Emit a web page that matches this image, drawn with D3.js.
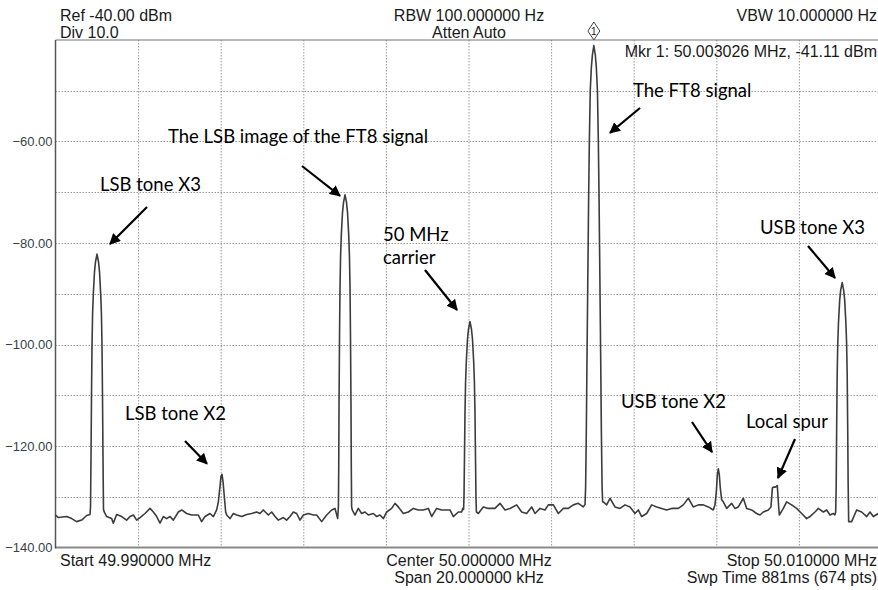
<!DOCTYPE html>
<html>
<head>
<meta charset="utf-8">
<title>Spectrum analyzer trace</title>
<script src="https://d3js.org/d3.v7.min.js"></script>
<style>
  body { margin: 0; background: #ffffff; }
  svg { display: block; }
</style>
</head>
<body>
<div id="chart"></div>
<script>

// frequency offset from start (kHz, 49.990 MHz = 0) and level (dBm)
var traceKHz = [0, 0.069, 0.270, 0.392, 0.512, 0.634, 0.755, 0.835,
  // LSB tone X3
  0.848, 0.860, 0.872, 0.884, 0.898, 0.915, 0.944, 0.969, 1.005, 1.041, 1.066, 1.095, 1.112, 1.126, 1.138, 1.150, 1.162,
  1.180, 1.239, 1.360, 1.400, 1.481, 1.602, 1.723, 1.804, 1.885, 1.965, 2.046, 2.167, 2.288, 2.369, 2.450, 2.530,
  2.611, 2.692, 2.772, 2.853, 2.974, 3.055, 3.176, 3.297, 3.458, 3.539, 3.620, 3.741, 3.822, 3.902,
  // LSB tone X2
  3.943, 3.983, 4.007, 4.032, 4.056, 4.088, 4.120,
  4.145, 4.225, 4.306, 4.387, 4.508, 4.629, 4.750, 4.871, 4.952, 5.032, 5.153, 5.234, 5.315, 5.396, 5.517,
  5.597, 5.678, 5.759, 5.839, 5.920, 6.001, 6.122, 6.243, 6.323, 6.445, 6.566, 6.687, 6.768, 6.832,
  // LSB image of FT8
  6.850, 6.858, 6.865, 6.877, 6.889, 6.903, 6.920, 6.949, 6.974, 7.010, 7.046, 7.071, 7.100, 7.117, 7.131, 7.143, 7.155, 7.162, 7.170,
  7.185, 7.252, 7.332, 7.413, 7.494, 7.575, 7.696, 7.777, 7.857, 7.938, 8.019, 8.140, 8.220, 8.301, 8.422,
  8.543, 8.664, 8.785, 8.906, 9.027, 9.108, 9.229, 9.350, 9.471, 9.552, 9.633, 9.754, 9.834, 9.860,
  // 50 MHz carrier
  9.881, 9.891, 9.903, 9.915, 9.929, 9.946, 9.975, 10.000, 10.036, 10.072, 10.097, 10.126, 10.143, 10.157, 10.169, 10.181, 10.191,
  10.238, 10.359, 10.480, 10.641, 10.762, 10.884, 11.005, 11.166, 11.287, 11.408, 11.529, 11.610, 11.731,
  11.852, 11.933, 12.054, 12.175, 12.296, 12.417, 12.538, 12.659, 12.780,
  // FT8 signal
  12.822, 12.836, 12.853, 12.870, 12.890, 12.909, 12.926, 12.948, 12.974, 12.999, 13.035, 13.071, 13.096, 13.122, 13.144,
  13.161, 13.180, 13.200, 13.217, 13.234, 13.248,
  13.264, 13.345, 13.426, 13.547, 13.668, 13.789, 13.910, 14.031, 14.112, 14.193, 14.314, 14.435, 14.556,
  14.677, 14.798, 14.919, 15.080, 15.201, 15.322, 15.443, 15.565, 15.686, 15.807, 15.928,
  // USB tone X2
  15.968, 16.001, 16.025, 16.049, 16.073, 16.097, 16.130,
  16.170, 16.251, 16.372, 16.452, 16.533, 16.654, 16.735, 16.856, 16.977, 17.058, 17.139, 17.260, 17.324,
  // local spur
  17.357, 17.381, 17.429, 17.477, 17.502,
  17.526, 17.623, 17.703, 17.824, 17.945, 18.067, 18.188, 18.268, 18.389, 18.470, 18.591, 18.672, 18.753,
  18.833, 18.870,
  // USB tone X3
  18.891, 18.903, 18.915, 18.927, 18.941, 18.958, 18.987, 19.012, 19.048, 19.084, 19.109, 19.138, 19.155, 19.169, 19.181, 19.193, 19.205,
  19.225, 19.277, 19.398, 19.519, 19.641, 19.721, 19.802, 19.923, 20.0];

var traceDBm = [-133.6, -134.1, -133.9, -134.3, -134.9, -134.6, -133.7, -133.5,
  -132.0, -122, -110, -100.2, -94, -90.2, -85.7, -83.7, -82.2, -83.7, -85.7, -90.2, -94, -100.2, -110, -122, -132.5,
  -133.0, -133.9, -134.3, -135.2, -133.5, -133.9, -134.6, -133.9, -133.6, -134.6, -134.1, -133.3, -132.3, -133.0, -133.9, -135.2,
  -133.9, -134.3, -133.9, -134.6, -133.0, -132.6, -133.3, -133.6, -133.6, -134.9, -133.9, -133.3, -133.9, -132.6,
  -131.0, -128.0, -126.0, -125.6, -127.0, -130.0, -133.0,
  -133.6, -134.3, -133.3, -133.6, -133.9, -133.5, -133.3, -133.0, -133.3, -132.6, -133.6, -133.0, -133.9, -134.6, -134.1,
  -134.6, -133.9, -133.0, -133.3, -134.6, -133.6, -133.3, -133.6, -133.6, -134.9, -133.6, -132.6, -132.3, -134.3,
  -132, -124, -112, -98.5, -88.5, -82.5, -78.5, -74, -72, -70.5, -72, -74, -78.5, -82.5, -88.5, -98.5, -112, -124, -132,
  -132.6, -133.6, -132.3, -133.3, -133.0, -133.6, -133.3, -133.9, -133.6, -134.3, -133.0, -132.3, -131.3, -132.0, -133.3,
  -133.0, -132.3, -132.6, -132.6, -132.3, -133.9, -132.3, -132.6, -132.6, -132.6, -133.9, -133.0, -133.0, -132.3,
  -132.5, -130, -122, -113.5, -107.5, -103.5, -99, -97, -95.5, -97, -99, -103.5, -107.5, -113.5, -122, -130, -133,
  -133.3, -132.0, -132.3, -132.3, -131.3, -132.6, -132.3, -131.6, -133.0, -133.3, -132.0, -133.3, -132.3,
  -132.6, -131.6, -131.6, -133.3, -132.3, -132.3, -131.6, -131.3, -132.0,
  -131.5, -128, -117, -102, -86, -71, -60, -50, -45.5, -43, -41.1, -43, -45.5, -50, -60,
  -71, -86, -102, -117, -128, -131,
  -131.0, -131.6, -130.3, -132.0, -132.3, -131.6, -132.0, -133.3, -132.6, -133.9, -133.3, -131.6, -132.0,
  -132.3, -132.6, -132.3, -132.3, -131.6, -130.3, -132.0, -131.6, -131.6, -132.0, -132.6,
  -131.6, -129.0, -125.7, -124.5, -125.7, -128.3, -130.6,
  -131.0, -132.3, -131.3, -132.3, -132.0, -130.3, -132.3, -132.6, -133.3, -133.6, -133.0, -132.6, -132.0,
  -128.3, -128.1, -128.1, -127.8, -131.0,
  -133.6, -132.3, -131.0, -131.6, -132.3, -133.3, -134.3, -133.9, -133.0, -132.3, -133.0, -132.6, -133.6,
  -133.3, -133.6,
  -133, -127.8, -115.8, -105.8, -99.8, -95.8, -91.3, -89.3, -87.8, -89.3, -91.3, -95.8, -99.8, -105.8, -115.8, -127.8, -134.9,
  -134.9, -134.9, -132.6, -133.0, -133.9, -133.0, -133.9, -133.3, -133.6];

var gridKHz = [2, 4, 6, 8, 10, 12, 14, 16, 18];
var gridDBm = [-50, -60, -70, -80, -90, -100, -110, -120, -130];
var yTickValues = [-60, -80, -100, -120, -140];

var markerKHz = 13.035;
var markerText = "Mkr 1: 50.003026 MHz, -41.11 dBm";

// annotation text; arrow tail in page px, arrow head in data coords
var notes = [
  {lines: ["The FT8 signal"], tx: 633, ty: 97, from: [640, 108], toK: 13.426, toD: -58.3},
  {lines: ["The LSB image of the FT8 signal"], tx: 168, ty: 143, from: [302, 166], toK: 6.889, toD: -70.7},
  {lines: ["LSB tone X3"], tx: 100, ty: 191, from: [147, 207], toK: 1.320, toD: -80.2},
  {lines: ["50 MHz", "carrier"], tx: 383, ty: 241, from: [425, 270], toK: 9.722, toD: -93.2},
  {lines: ["USB tone X3"], tx: 760, ty: 234, from: [808, 246], toK: 18.874, toD: -86.9},
  {lines: ["LSB tone X2"], tx: 125, ty: 420, from: [185, 441], toK: 3.668, toD: -123.5},
  {lines: ["USB tone X2"], tx: 621, ty: 408, from: [692, 422], toK: 15.896, toD: -121.2},
  {lines: ["Local spur"], tx: 746, ty: 428, from: [795, 439], toK: 17.494, toD: -126.3}
];

var W = 878, H = 590;
var svg = d3.select("#chart").append("svg")
  .attr("width", W).attr("height", H);

var x = d3.scaleLinear().domain([0, 20]).range([55.5, 881.5]);
var y = d3.scaleLinear().domain([-140, -40]).range([547.5, 40]);

var defs = svg.append("defs");
defs.append("marker")
  .attr("id", "head")
  .attr("viewBox", "0 0 10 10")
  .attr("refX", 9).attr("refY", 5)
  .attr("markerWidth", 5).attr("markerHeight", 5)
  .attr("markerUnits", "strokeWidth")
  .attr("orient", "auto")
  .append("path").attr("d", "M0,0 L10,5 L0,10 z").attr("fill", "#000");

// grid
svg.append("g").selectAll("line").data(gridKHz).enter().append("line")
  .attr("x1", function(d) { return x(d) + 0.5; }).attr("x2", function(d) { return x(d) + 0.5; })
  .attr("y1", y(-40)).attr("y2", y(-140))
  .attr("stroke", "#9a9a9a").attr("stroke-width", 1).attr("stroke-dasharray", "1.5,1.5");
svg.append("g").selectAll("line").data(gridDBm).enter().append("line")
  .attr("x1", x(0)).attr("x2", x(20))
  .attr("y1", function(d) { return Math.round(y(d)) + 0.5; }).attr("y2", function(d) { return Math.round(y(d)) + 0.5; })
  .attr("stroke", "#9a9a9a").attr("stroke-width", 1).attr("stroke-dasharray", "1.5,1.5");

// frame
svg.append("line").attr("x1", x(0)).attr("x2", x(20)).attr("y1", y(-40)).attr("y2", y(-40))
  .attr("stroke", "#777").attr("stroke-width", 1.2);
svg.append("line").attr("x1", x(0)).attr("x2", x(20)).attr("y1", y(-140)).attr("y2", y(-140))
  .attr("stroke", "#8a8a8a").attr("stroke-width", 2);
svg.append("line").attr("x1", x(0)).attr("x2", x(0)).attr("y1", y(-40)).attr("y2", y(-140) + 1)
  .attr("stroke", "#555").attr("stroke-width", 1.5);

// y axis labels
var yAxis = d3.axisLeft(y).tickValues(yTickValues).tickSize(0).tickPadding(3)
  .tickFormat(d3.format(".2f"));
var ya = svg.append("g").attr("transform", "translate(" + x(0) + ",0)").call(yAxis);
ya.select(".domain").remove();
ya.selectAll("text").style("font-family", "'Liberation Sans', Arial, sans-serif")
  .style("font-size", "13px").attr("fill", "#3a3f47");

// trace
var pts = traceKHz.map(function(k, i) { return [k, traceDBm[i]]; });
var line = d3.line().x(function(d) { return x(d[0]); }).y(function(d) { return y(d[1]); });
svg.append("path").datum(pts).attr("d", line)
  .attr("fill", "none").attr("stroke", "#3c3c3c").attr("stroke-width", 1.6)
  .attr("stroke-linejoin", "round");

// marker diamond
var mx = x(markerKHz);
svg.append("path")
  .attr("d", "M" + mx + ",22 L" + (mx + 6) + ",31 L" + mx + ",40 L" + (mx - 6) + ",31 Z")
  .attr("fill", "#fff").attr("stroke", "#444").attr("stroke-width", 1);
svg.append("text").attr("x", mx).attr("y", 35).attr("text-anchor", "middle")
  .style("font-family", "'Liberation Sans', Arial, sans-serif").style("font-size", "10px")
  .attr("fill", "#222").text("1");

// header / footer text
var hdr = [
  {t: "Ref -40.00 dBm", x: 60, y: 21, a: "start"},
  {t: "Div 10.0", x: 60, y: 37.5, a: "start"},
  {t: "RBW 100.000000 Hz", x: 469, y: 21, a: "middle"},
  {t: "Atten Auto", x: 469, y: 37.5, a: "middle"},
  {t: "VBW 10.000000 Hz", x: 877, y: 21, a: "end"},
  {t: markerText, x: 877, y: 57, a: "end"},
  {t: "Start 49.990000 MHz", x: 60, y: 566, a: "start"},
  {t: "Center 50.000000 MHz", x: 469, y: 566, a: "middle"},
  {t: "Span 20.000000 kHz", x: 469, y: 583, a: "middle"},
  {t: "Stop 50.010000 MHz", x: 877, y: 566, a: "end"},
  {t: "Swp Time 881ms (674 pts)", x: 877, y: 583, a: "end"}
];
svg.append("g").selectAll("text").data(hdr).enter().append("text")
  .attr("x", function(d) { return d.x; }).attr("y", function(d) { return d.y; })
  .attr("text-anchor", function(d) { return d.a; })
  .style("font-family", "'Liberation Sans', Arial, sans-serif").style("font-size", "16px")
  .attr("fill", "#1a1a1a")
  .text(function(d) { return d.t; });

// annotations
var ann = svg.append("g");
notes.forEach(function(n) {
  n.lines.forEach(function(s, i) {
    ann.append("text").attr("x", n.tx).attr("y", n.ty + i * 23)
      .style("font-family", "Lato, 'Open Sans', sans-serif").style("font-size", "18.5px")
      .attr("fill", "#000").text(s);
  });
  ann.append("line")
    .attr("x1", n.from[0]).attr("y1", n.from[1])
    .attr("x2", x(n.toK)).attr("y2", y(n.toD))
    .attr("stroke", "#000").attr("stroke-width", 2.2)
    .attr("marker-end", "url(#head)");
});

</script>
</body>
</html>
